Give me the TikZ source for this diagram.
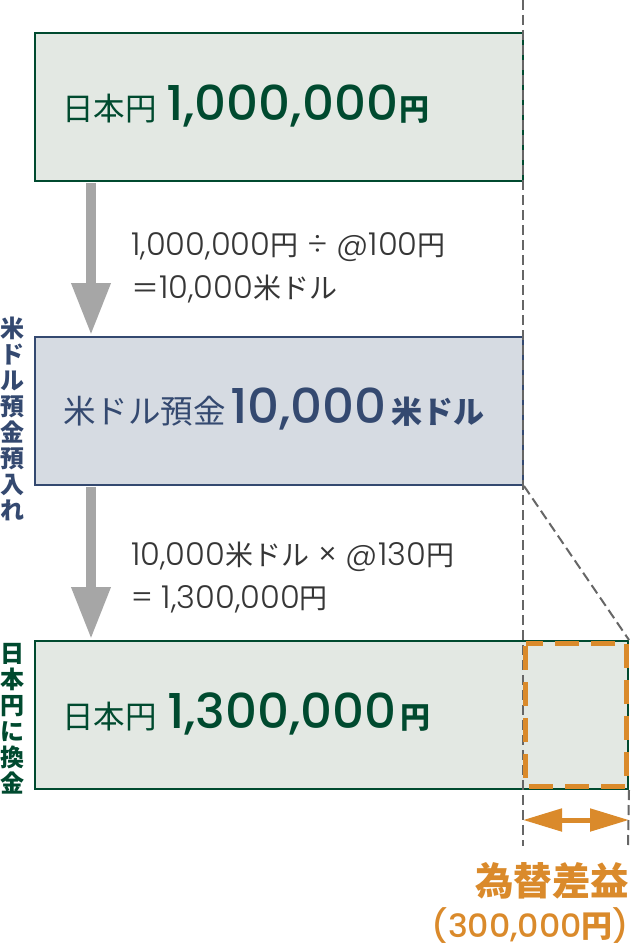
\documentclass[tikz,border=0pt]{standalone}
\usepackage{fontspec}
\usetikzlibrary{arrows.meta}
\newfontfamily\jp{Noto Sans CJK JP}
\newfontfamily\popM{Poppins Medium}[FakeStretch=1.04]
\newfontfamily\popL{Poppins Light}[FakeStretch=1.02]
\definecolor{dgreen}{HTML}{004A2F}
\definecolor{lgreen}{HTML}{E3E8E3}
\definecolor{navy}{HTML}{344970}
\definecolor{lnavy}{HTML}{D6DBE2}
\definecolor{agray}{HTML}{A6A6A6}
\definecolor{dgray}{HTML}{666666}
\definecolor{calc}{HTML}{363636}
\definecolor{gold}{HTML}{DA8A2B}
\newcommand\fs[1]{\fontsize{#1}{#1}\selectfont}
\begin{document}
\begin{tikzpicture}[x=1pt,y=-1pt,
  box/.style={draw, line width=2pt, inner sep=0pt, minimum height=148pt},
  txt/.style={inner sep=0pt, anchor=base west},
  garrow/.style={draw=agray, line width=10pt, -{Triangle[length=52pt,width=37pt]}},
  oarrow/.style={draw=gold, fill=gold, line width=5pt, {Triangle[length=39pt,width=22pt]}-{Triangle[length=39pt,width=22pt]}},
  gdash/.style={draw=dgray, line width=2pt, dash pattern=on 10pt off 5pt},
  vtext/.style={inner sep=0pt, anchor=north, align=center, font=\jp\bfseries\fontsize{24}{26}\selectfont}
]
\useasboundingbox (0,0) rectangle (630,947);
\fill[white] (0,0) rectangle (630,947);

% boxes
\node[box, draw=dgreen, fill=lgreen, minimum width=488pt] (box1) at (279,107) {};
\node[box, draw=navy, fill=lnavy, minimum width=488pt] (box2) at (279,411) {};
\node[box, draw=dgreen, fill=lgreen, minimum width=593pt] (box3) at (331.5,715) {};

% box texts
\node[txt, text=dgreen, font=\jp\fs{31.5}] (t1a) at (62,120.5) {日本円};
\node[txt, text=dgreen, font=\popM\fs{48}] (t1b) at (166,120.5) {1,000,000};
\node[txt, text=dgreen, font=\jp\bfseries\fs{30}] (t1c) at (399,120.5) {円};

\node[txt, text=navy, font=\jp\fs{32.5}] (t2a) at (63,423) {米ドル預金};
\node[txt, text=navy, font=\popM\fs{48}] (t2b) at (230,423) {10,000};
\node[txt, text=navy, font=\jp\bfseries\fs{31}] (t2c) at (391,423) {米ドル};

\node[txt, text=dgreen, font=\jp\fs{31.5}] (t3a) at (62,728) {日本円};
\node[txt, text=dgreen, font=\popM\fs{48}] (t3b) at (167,728) {1,300,000};
\node[txt, text=dgreen, font=\jp\bfseries\fs{30}] (t3c) at (400,728) {円};

% calculations
\node[txt, text=calc] (c1a) at (131,255) {{\popL\fs{31.5}1,000,000}{\jp\fs{28}円}{\popL\fs{31.5} ÷ @100}{\jp\fs{28}円}};
\node[txt, text=calc] (c1b) at (131,298) {{\jp\fs{28}＝}{\popL\fs{31.5}10,000}{\jp\fs{28}米ドル}};
\node[txt, text=calc] (c2a) at (131,565) {{\popL\fs{31.5}10,000}{\jp\fs{28}米ドル}{\popL\fs{31.5} × @130}{\jp\fs{28}円}};
\node[txt, text=calc] (c2b) at (131,608) {{\popL\fs{31.5}= 1,300,000}{\jp\fs{28}円}};

% vertical labels
\node[vtext, text=navy] (v1) at (12,317) {米\\ド\\ル\\預\\金\\預\\入\\れ};
\node[vtext, text=dgreen] (v2) at (12,643) {日\\本\\円\\に\\換\\金};

% gray arrows
\coordinate (a1e) at (91,335);
\coordinate (a2e) at (91,639);
\draw[garrow] (box1.south -| a1e) ++(0,1) -- (a1e);
\draw[garrow] (box2.south -| a2e) ++(0,1) -- (a2e);

% dashed guide lines
\coordinate (g1t) at (523,0);
\coordinate (g1b) at (523,846);
\coordinate (g2b) at (628,846);
\draw[gdash] (g1t) -- (g1b);
\draw[gdash] (box2.south east) -- (box3.north east);
\draw[gdash] (box3.south east) -- (g2b);

% orange dashed gain box
\draw[draw=gold, line width=5pt, dash pattern=on 24pt off 12pt, dash phase=7pt]
  (525.5,643.5) -- (626,643.5) -- (626,786.5) -- (525.5,786.5) -- cycle;

% orange double arrow
\coordinate (dl) at (523,820);
\coordinate (dr) at (629,820);
\draw[oarrow] (dl) -- (dr);

% gain labels
\node[inner sep=0pt, anchor=base east, text=gold, font=\jp\bfseries\fs{38.5}] (gain) at (629.5,895.5) {為替差益};
\node[inner sep=0pt, anchor=base east, text=gold] (gainv) at (629.5,937) {{\popM\fs{32}(300,000}{\jp\bfseries\fs{31}円}{\popM\fs{32})}};
\end{tikzpicture}
\end{document}
